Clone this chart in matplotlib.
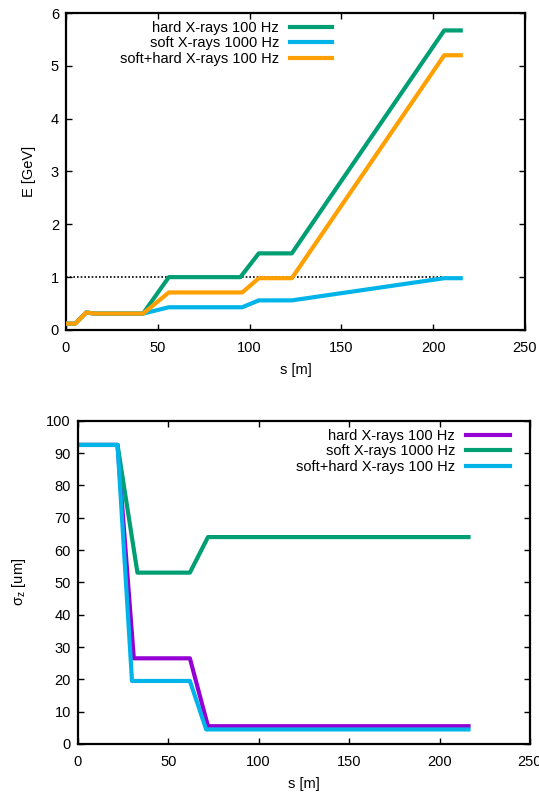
import matplotlib
matplotlib.use("Agg")
import matplotlib.pyplot as plt

plt.rcParams['font.family'] = ['Liberation Sans', 'DejaVu Sans']
plt.rcParams['font.size'] = 10.5

# energy along the linac
s_hard = [0, 5, 11, 16, 42, 56, 95, 105, 123, 206, 215]
E_hard = [0.12, 0.12, 0.33, 0.31, 0.31, 1.0, 1.0, 1.45, 1.45, 5.67, 5.67]
s_soft = [0, 5, 11, 16, 42, 56, 96, 105, 123, 206, 215]
E_soft = [0.12, 0.12, 0.33, 0.31, 0.31, 0.43, 0.43, 0.56, 0.56, 0.98, 0.98]
s_mix = [0, 5, 11, 16, 42, 56, 96, 105, 123, 206, 215]
E_mix = [0.12, 0.12, 0.33, 0.31, 0.31, 0.71, 0.71, 0.98, 0.98, 5.2, 5.2]
s_ref = [0, 206]
E_ref = [1.0, 1.0]

# bunch length along the linac
sz_s_hard = [0, 22, 31, 62, 72, 216]
sz_hard = [92.5, 92.5, 26.5, 26.5, 5.5, 5.5]
sz_s_soft = [0, 22, 33, 62, 72, 216]
sz_soft = [92.5, 92.5, 53, 53, 64, 64]
sz_s_mix = [0, 22, 30, 62, 71, 216]
sz_mix = [92.5, 92.5, 19.5, 19.5, 4.5, 4.5]

labels = ["hard X-rays 100 Hz", "soft X-rays 1000 Hz", "soft+hard X-rays 100 Hz"]
green = "#009e73"
blue = "#00b4ea"
orange = "#ffa000"
purple = "#9400d3"
lw = 3.0

fig = plt.figure(figsize=(5.39, 7.93), dpi=100)


def style(ax):
    ax.tick_params(direction='in', top=True, right=True, length=4, width=1)
    ax.tick_params(axis='x', pad=8)
    ax.tick_params(axis='y', pad=5)
    for sp in ax.spines.values():
        sp.set_linewidth(1.6)


ax1 = fig.add_axes([0.1224, 0.5839, 0.8516, 0.3997])
ax1.plot(s_ref, E_ref, color='black', lw=1.2, ls=(0, (1, 1.2)), zorder=1)
ax1.plot(s_hard, E_hard, color=green, lw=lw, label=labels[0], zorder=2)
ax1.plot(s_soft, E_soft, color=blue, lw=lw, label=labels[1], zorder=3)
ax1.plot(s_mix, E_mix, color=orange, lw=lw, label=labels[2], zorder=4)
ax1.set_xlim(0, 250)
ax1.set_ylim(0, 6)
ax1.set_xticks([0, 50, 100, 150, 200, 250])
ax1.set_yticks(range(7))
ax1.set_xlabel("s [m]", labelpad=6)
ax1.set_ylabel("E [GeV]", labelpad=11)
style(ax1)
ax1.legend(loc='upper right', bbox_to_anchor=(0.58, 0.975), frameon=False,
           markerfirst=False, handlelength=2.9, handletextpad=0.75,
           labelspacing=0.1, borderaxespad=0, borderpad=0)

ax2 = fig.add_axes([0.1442, 0.0618, 0.8391, 0.4077])
ax2.plot(sz_s_hard, sz_hard, color=purple, lw=lw, label=labels[0])
ax2.plot(sz_s_soft, sz_soft, color=green, lw=lw, label=labels[1])
ax2.plot(sz_s_mix, sz_mix, color=blue, lw=lw, label=labels[2])
ax2.set_xlim(0, 250)
ax2.set_ylim(0, 100)
ax2.set_xticks([0, 50, 100, 150, 200, 250])
ax2.set_yticks(range(0, 101, 10))
ax2.set_xlabel("s [m]", labelpad=6)
ax2.set_ylabel("σ$_\\mathregular{z}$ [um]", labelpad=13)
style(ax2)
ax2.legend(loc='upper right', bbox_to_anchor=(0.955, 0.975), frameon=False,
           markerfirst=False, handlelength=3.0, handletextpad=0.75,
           labelspacing=0.1, borderaxespad=0, borderpad=0)

fig.savefig("out.png", dpi=100)
